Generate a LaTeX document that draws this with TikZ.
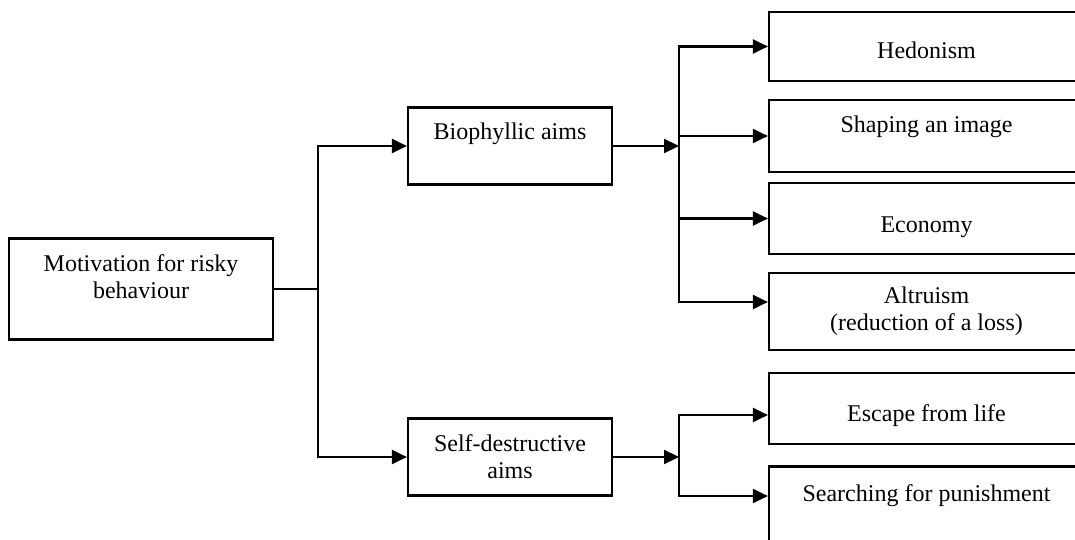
\documentclass[tikz,border=0pt]{standalone}
\usepackage{fontspec}
\setmainfont{Liberation Serif}
\usetikzlibrary{arrows.meta}
\tikzstyle{box} = [rectangle, draw=black, line width=1.1pt, align=center, inner sep=0pt, font=\fontsize{12}{13.5}\selectfont]
\tikzstyle{aim} = [box, minimum width=102pt, minimum height=38.5pt]
\tikzstyle{reason} = [box, minimum width=157.5pt]
\tikzstyle{line} = [line width=1.1pt]
\tikzstyle{arrow} = [line width=1.1pt, -{Triangle[length=7.5pt,width=7pt]}]

\begin{document}
\begin{tikzpicture}[x=0.5pt, y=-0.5pt]
        \clip (0,0) rectangle (1075,540);

        % Blocks
        \node (motive) [box, minimum width=132pt, minimum height=50.5pt, text depth=12pt] at (141,289) {Motivation for risky\\behaviour};
        \node (bio) [aim, text height=9pt, text depth=15pt] at (510,146) {Biophyllic aims};
        \node (self) [aim] at (510,457) {Self-destructive\\aims};

        \node (hedon) [reason, minimum height=34.5pt, text height=14.5pt, text depth=2pt] at (926.5,46.5) {Hedonism};
        \node (image) [reason, below of=hedon, node distance=44.75pt, minimum height=36pt, text height=9pt, text depth=12pt] {Shaping an image};
        \node (econ) [reason, below of=image, node distance=41.25pt, minimum height=35.5pt, text height=15.5pt, text depth=2pt] {Economy};
        \node (altru) [reason, below of=econ, node distance=46.5pt, minimum height=38.5pt] {Altruism\\(reduction of a loss)};
        \node (escape) [reason, below of=altru, node distance=48.5pt, minimum height=35.5pt, text height=15pt, text depth=2pt] {Escape from life};
        \node (punish) [reason, below of=escape, node distance=48.75pt, minimum height=39.5pt, text height=9pt, text depth=14pt] {Searching for punishment};

        % Branch points
        \coordinate (split1) at (318,289);
        \coordinate (split2) at (679,146);
        \coordinate (split3) at (679,457);

        % Connections
        \draw [line] (motive.east) -- (split1);
        \draw [arrow] (split1) |- (bio);
        \draw [arrow] (split1) |- (self);

        \draw [arrow] (bio) -- (split2);
        \draw [arrow] (split2) |- (hedon);
        \draw [arrow] (split2) |- (image);
        \draw [arrow] (split2) |- (econ);
        \draw [arrow] (split2) |- ([yshift=4.75pt]altru.west);

        \draw [arrow] (self) -- (split3);
        \draw [arrow] (split3) |- ([yshift=-3.25pt]escape.west);
        \draw [arrow] (split3) |- ([yshift=5pt]punish.west);

\end{tikzpicture}
\end{document}
